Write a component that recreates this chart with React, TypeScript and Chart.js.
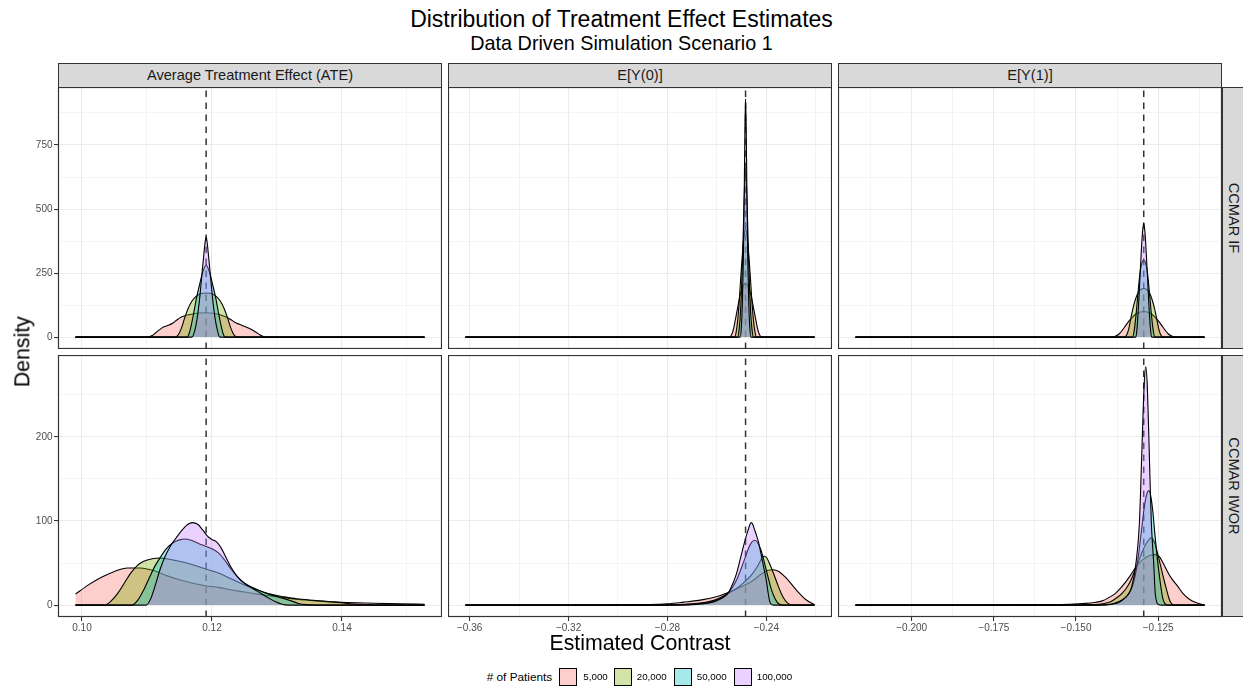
import React, { useEffect, useRef } from "react";
import { Chart, registerables } from "chart.js";

Chart.register(...registerables);

type Pt = [number, number];

// ---------- labels ----------
const SERIES = ["5,000", "20,000", "50,000", "100,000"];
const FILLS = [
  "rgba(248,118,109,0.35)",
  "rgba(124,174,0,0.35)",
  "rgba(0,191,196,0.35)",
  "rgba(199,124,255,0.35)",
];
const COL_TITLES = ["Average Treatment Effect (ATE)", "E[Y(0)]", "E[Y(1)]"];
const ROW_TITLES = ["CCMAR IF", "CCMAR IWOR"];
const TRUTH = [0.1191, -0.2484, -0.1294];

// ---------- ticks ----------
const X_MAJOR = [
  [0.1, 0.12, 0.14],
  [-0.36, -0.32, -0.28, -0.24],
  [-0.2, -0.175, -0.15, -0.125],
];
const X_LABELS = [
  ["0.10", "0.12", "0.14"],
  ["\u22120.36", "\u22120.32", "\u22120.28", "\u22120.24"],
  ["\u22120.200", "\u22120.175", "\u22120.150", "\u22120.125"],
];
const X_MINOR = [
  [0.11, 0.13, 0.15],
  [-0.34, -0.3, -0.26, -0.22],
  [-0.2125, -0.1875, -0.1625, -0.1375, -0.1125],
];
const Y_MAJOR = [
  [0, 250, 500, 750],
  [0, 100, 200],
];
const Y_LABELS = [
  ["0", "250", "500", "750"],
  ["0", "100", "200"],
];
const Y_MINOR = [
  [125, 375, 625, 875],
  [50, 150, 250],
];

// ---------- densities: CCMAR IF ----------
const ATE_IF_5000: Pt[] = [[0.099,0],[0.1102,0],[0.1108,6],[0.1114,18],[0.112,30],[0.1126,40],[0.1133,46],[0.114,55],[0.1146,67],[0.1153,78],[0.1162,86],[0.1172,91],[0.1182,94],[0.1191,95],[0.1201,93],[0.1211,88],[0.122,80],[0.1228,70],[0.1235,58],[0.1242,50],[0.125,42],[0.1257,35],[0.1263,27],[0.1269,17],[0.1274,8],[0.1279,2],[0.1283,0],[0.1527,0]];
const ATE_IF_20000: Pt[] = [[0.099,0],[0.1143,0],[0.1148,8],[0.1153,35],[0.1158,75],[0.1163,110],[0.1169,140],[0.1176,160],[0.1183,170],[0.1191,172],[0.1199,170],[0.1206,160],[0.1213,140],[0.1219,110],[0.1224,75],[0.1229,35],[0.1234,8],[0.1239,0],[0.1527,0]];
const ATE_IF_50000: Pt[] = [[0.099,0],[0.1162,0],[0.1165,15],[0.1168,45],[0.1172,95],[0.1176,150],[0.1181,205],[0.1186,255],[0.1191,281],[0.1196,255],[0.1201,205],[0.1206,150],[0.121,95],[0.1214,45],[0.1217,15],[0.122,0],[0.1527,0]];
const ATE_IF_100000: Pt[] = [[0.099,0],[0.1169,0],[0.1173,20],[0.1177,70],[0.1181,150],[0.1184,230],[0.1187,310],[0.1189,360],[0.1191,392],[0.1193,360],[0.1195,310],[0.1198,230],[0.1201,150],[0.1205,70],[0.1209,20],[0.1212,0],[0.1527,0]];

const EY0_IF_5000: Pt[] = [[-0.3617,0],[-0.2549,0],[-0.2539,12],[-0.2532,35],[-0.2524,74],[-0.2516,115],[-0.2508,155],[-0.25,185],[-0.2492,203],[-0.2484,210],[-0.2476,203],[-0.2468,185],[-0.246,155],[-0.2452,115],[-0.2444,74],[-0.2436,35],[-0.2429,12],[-0.2419,0],[-0.2205,0]];
const EY0_IF_20000: Pt[] = [[-0.3617,0],[-0.2528,0],[-0.2522,20],[-0.2515,74],[-0.2509,150],[-0.2503,240],[-0.2497,320],[-0.2491,390],[-0.2484,420],[-0.2477,390],[-0.2471,320],[-0.2465,240],[-0.2459,150],[-0.2453,74],[-0.2446,20],[-0.244,0],[-0.2205,0]];
const EY0_IF_50000: Pt[] = [[-0.3617,0],[-0.2516,0],[-0.251,30],[-0.2505,90],[-0.25,200],[-0.2495,350],[-0.249,530],[-0.2484,660],[-0.2478,530],[-0.2473,350],[-0.2468,200],[-0.2463,90],[-0.2458,30],[-0.2452,0],[-0.2205,0]];
const EY0_IF_100000: Pt[] = [[-0.3617,0],[-0.2506,0],[-0.2501,40],[-0.2497,130],[-0.2493,300],[-0.2489,600],[-0.24865,820],[-0.2484,930],[-0.24815,820],[-0.2479,600],[-0.2475,300],[-0.2471,130],[-0.2467,40],[-0.2462,0],[-0.2205,0]];

const EY1_IF_5000: Pt[] = [[-0.2171,0],[-0.139,0],[-0.1379,4],[-0.1369,12],[-0.1359,27],[-0.1349,45],[-0.1339,62],[-0.1329,77],[-0.1319,89],[-0.1309,96],[-0.1294,100],[-0.1279,96],[-0.1269,89],[-0.1259,77],[-0.1249,62],[-0.1239,45],[-0.1229,27],[-0.1219,12],[-0.1209,4],[-0.1198,0],[-0.1109,0]];
const EY1_IF_20000: Pt[] = [[-0.2171,0],[-0.1353,0],[-0.1346,8],[-0.134,30],[-0.1334,68],[-0.1328,105],[-0.1321,140],[-0.1314,165],[-0.1306,183],[-0.1294,190],[-0.1282,183],[-0.1274,165],[-0.1267,140],[-0.126,105],[-0.1254,68],[-0.1248,30],[-0.1242,8],[-0.1235,0],[-0.1109,0]];
const EY1_IF_50000: Pt[] = [[-0.2171,0],[-0.1328,0],[-0.1323,25],[-0.1318,80],[-0.1313,150],[-0.1308,220],[-0.1303,270],[-0.1298,295],[-0.1294,300],[-0.129,295],[-0.1285,270],[-0.128,220],[-0.1275,150],[-0.127,80],[-0.1265,25],[-0.126,0],[-0.1109,0]];
const EY1_IF_100000: Pt[] = [[-0.2171,0],[-0.1318,0],[-0.1314,40],[-0.131,120],[-0.1306,220],[-0.1302,320],[-0.1298,405],[-0.1294,445],[-0.129,405],[-0.1286,320],[-0.1282,220],[-0.1278,120],[-0.1274,40],[-0.127,0],[-0.1109,0]];

// ---------- densities: CCMAR IWOR ----------
const ATE_IWOR_5000: Pt[] = [[0.099,13],[0.101,24],[0.103,33],[0.105,40],[0.107,44],[0.109,44],[0.111,41],[0.113,35],[0.115,30],[0.117,26],[0.119,23],[0.121,21],[0.123,18],[0.125,15.5],[0.127,13],[0.129,11],[0.131,9],[0.133,7],[0.136,5],[0.14,3.2],[0.145,2.2],[0.149,1.5],[0.1527,1]];
const ATE_IWOR_20000: Pt[] = [[0.099,0],[0.1035,0],[0.1045,5],[0.1055,14],[0.1065,26],[0.1075,38],[0.1085,47],[0.1095,52],[0.1108,55],[0.112,56],[0.113,55],[0.115,52],[0.117,48],[0.119,43],[0.121,38],[0.123,31],[0.125,24],[0.127,18],[0.129,13],[0.131,10],[0.133,7.5],[0.136,5.5],[0.139,3.5],[0.1405,2.2],[0.142,1],[0.144,0.3],[0.146,0],[0.1527,0]];
const ATE_IWOR_50000: Pt[] = [[0.099,0],[0.1076,0],[0.1086,6],[0.1095,18],[0.1104,33],[0.1112,46],[0.112,56],[0.113,67],[0.114,74],[0.115,77.5],[0.1158,78.5],[0.1168,77],[0.118,73],[0.119,70],[0.12,67],[0.121,62],[0.122,53],[0.123,42],[0.124,33],[0.125,26],[0.1265,20],[0.128,15],[0.1295,11],[0.131,8],[0.1322,5],[0.1333,2],[0.1345,0.5],[0.136,0],[0.1527,0]];
const ATE_IWOR_100000: Pt[] = [[0.099,0],[0.1099,0],[0.1106,8],[0.1113,24],[0.112,42],[0.1128,58],[0.1136,70],[0.1145,80],[0.1155,90],[0.1163,96],[0.117,98],[0.1178,96],[0.1186,89],[0.1193,82],[0.12,78],[0.1207,75],[0.1214,68],[0.1222,56],[0.123,44],[0.124,33],[0.125,26],[0.1262,20],[0.1275,14],[0.1288,8],[0.1298,4],[0.1308,1],[0.1318,0],[0.1527,0]];

const EY0_IWOR_5000: Pt[] = [[-0.3617,0],[-0.31,0],[-0.3,0.2],[-0.29,0.6],[-0.28,1.5],[-0.2735,3.5],[-0.2656,6.5],[-0.2602,10],[-0.2562,14],[-0.2508,21],[-0.2455,29],[-0.242,37],[-0.2395,41],[-0.2373,42],[-0.235,40],[-0.2319,32],[-0.2279,18],[-0.2238,6],[-0.2205,0.5]];
const EY0_IWOR_20000: Pt[] = [[-0.3617,0],[-0.285,0],[-0.278,0.5],[-0.272,1.2],[-0.266,2.8],[-0.262,5],[-0.2585,9],[-0.2555,14],[-0.2525,19],[-0.249,27],[-0.246,36],[-0.2438,45],[-0.2425,52],[-0.2416,57],[-0.2408,58],[-0.2398,56],[-0.2385,48],[-0.237,37],[-0.2355,25],[-0.234,14],[-0.2325,6],[-0.2312,2],[-0.23,0.4],[-0.229,0],[-0.2205,0]];
const EY0_IWOR_50000: Pt[] = [[-0.3617,0],[-0.28,0],[-0.272,0.5],[-0.266,1.8],[-0.262,4],[-0.2585,8],[-0.2555,14],[-0.2535,22],[-0.252,30],[-0.2501,44],[-0.2485,57],[-0.247,69],[-0.2458,75],[-0.2447,77],[-0.2437,75],[-0.2425,68],[-0.2416,60],[-0.2405,47],[-0.2392,32],[-0.238,19],[-0.2367,9],[-0.2355,3],[-0.2346,1],[-0.2335,0],[-0.2205,0]];
const EY0_IWOR_100000: Pt[] = [[-0.3617,0],[-0.278,0],[-0.27,0.4],[-0.265,1.6],[-0.261,4],[-0.258,8],[-0.2555,14],[-0.2535,26],[-0.252,38],[-0.2501,60],[-0.2487,76],[-0.2474,89],[-0.2466,96],[-0.2461,98],[-0.2455,96],[-0.2448,90],[-0.2441,84],[-0.2431,74],[-0.2421,60],[-0.241,44],[-0.24,29],[-0.2393,15],[-0.2387,5],[-0.238,1],[-0.2372,0],[-0.2205,0]];

const EY1_IWOR_5000: Pt[] = [[-0.2171,0],[-0.19,0],[-0.17,0.2],[-0.16,0.5],[-0.152,1],[-0.147,2],[-0.1445,3],[-0.142,5],[-0.14,9],[-0.138,14],[-0.1365,20],[-0.135,27],[-0.1335,35],[-0.132,44],[-0.1305,51],[-0.129,56],[-0.1275,59],[-0.126,60],[-0.1247,58],[-0.1235,50],[-0.1222,40],[-0.121,32],[-0.119,22],[-0.1175,14],[-0.1155,7],[-0.1135,3],[-0.1118,1],[-0.1109,0.5]];
const EY1_IWOR_20000: Pt[] = [[-0.2171,0],[-0.15,0],[-0.145,0.5],[-0.142,1.5],[-0.1395,4],[-0.1375,9],[-0.136,14],[-0.1347,20],[-0.1335,28],[-0.1322,40],[-0.131,52],[-0.1298,64],[-0.1285,74],[-0.1271,80],[-0.1261,74],[-0.1251,60],[-0.1241,44],[-0.1233,31],[-0.1225,19],[-0.1218,9],[-0.1212,3],[-0.1205,0.5],[-0.1195,0],[-0.1109,0]];
const EY1_IWOR_50000: Pt[] = [[-0.2171,0],[-0.145,0],[-0.141,0.5],[-0.1385,2],[-0.136,6],[-0.1342,12],[-0.1327,24],[-0.1314,48],[-0.1302,85],[-0.1291,120],[-0.1283,134],[-0.1278,136],[-0.1272,128],[-0.1266,110],[-0.126,84],[-0.1254,60],[-0.1248,40],[-0.1242,22],[-0.1236,8],[-0.123,2],[-0.1224,0.3],[-0.1215,0],[-0.1109,0]];
const EY1_IWOR_100000: Pt[] = [[-0.2171,0],[-0.145,0],[-0.14,0.5],[-0.137,3],[-0.135,9],[-0.1332,20],[-0.1317,52],[-0.1307,99],[-0.13,179],[-0.1293,259],[-0.1288,283],[-0.1283,259],[-0.1277,179],[-0.1271,99],[-0.1264,52],[-0.1259,14],[-0.1254,3],[-0.1248,0.5],[-0.124,0],[-0.1109,0]];

const PANELS: Pt[][][][] = [
  [
    [ATE_IF_5000, ATE_IF_20000, ATE_IF_50000, ATE_IF_100000],
    [EY0_IF_5000, EY0_IF_20000, EY0_IF_50000, EY0_IF_100000],
    [EY1_IF_5000, EY1_IF_20000, EY1_IF_50000, EY1_IF_100000],
  ],
  [
    [ATE_IWOR_5000, ATE_IWOR_20000, ATE_IWOR_50000, ATE_IWOR_100000],
    [EY0_IWOR_5000, EY0_IWOR_20000, EY0_IWOR_50000, EY0_IWOR_100000],
    [EY1_IWOR_5000, EY1_IWOR_20000, EY1_IWOR_50000, EY1_IWOR_100000],
  ],
];

// ---------- layout ----------
const FONT = '"Liberation Sans", Arial, Helvetica, sans-serif';
const COL_LEFT = [58, 448, 838];
const ROW_TOP = [87, 355];
const PW = 384;
const PH = 262;
const LEFT_PAD = 45;
const BOTTOM_PAD = 28;

function xLimits(c: number): [number, number] {
  let mn = Infinity, mx = -Infinity;
  for (let r = 0; r < 2; r++)
    for (const s of PANELS[r][c])
      for (const [x] of s) { mn = Math.min(mn, x); mx = Math.max(mx, x); }
  const d = mx - mn;
  return [mn - 0.05 * d, mx + 0.05 * d];
}
function yLimits(r: number): [number, number] {
  let mx = 0;
  for (let c = 0; c < 3; c++)
    for (const s of PANELS[r][c])
      for (const [, y] of s) mx = Math.max(mx, y);
  return [-0.05 * mx, 1.05 * mx];
}

const near = (a: number, b: number) => Math.abs(a - b) < 1e-9;
const isMajor = (list: number[], v: number) => list.some((m) => near(m, v));
const labelOf = (list: number[], labels: string[], v: number) => {
  const i = list.findIndex((m) => near(m, v));
  return i >= 0 ? labels[i] : "";
};

function zeroPad(s: any) {
  s.paddingTop = 0;
  s.paddingBottom = 0;
  s.paddingLeft = 0;
  s.paddingRight = 0;
}

function buildConfig(r: number, c: number): any {
  const showY = c === 0;
  const showX = r === 1;
  const [xmin, xmax] = xLimits(c);
  const [ymin, ymax] = yLimits(r);
  const xTicks = [...X_MINOR[c], ...X_MAJOR[c]].sort((a, b) => a - b);
  const yTicks = [...Y_MINOR[r], ...Y_MAJOR[r]].sort((a, b) => a - b);
  const truth = TRUTH[c];

  const vline = {
    id: "truthLine",
    beforeDatasetsDraw(chart: any) {
      const { ctx, chartArea, scales } = chart;
      const px = scales.x.getPixelForValue(truth);
      ctx.save();
      ctx.beginPath();
      ctx.rect(chartArea.left, chartArea.top, chartArea.right - chartArea.left, chartArea.bottom - chartArea.top);
      ctx.clip();
      ctx.strokeStyle = "#333333";
      ctx.lineWidth = 1.5;
      ctx.setLineDash([6.5, 5.5]);
      ctx.beginPath();
      ctx.moveTo(px, chartArea.bottom);
      ctx.lineTo(px, chartArea.top);
      ctx.stroke();
      ctx.restore();
    },
  };
  const border = {
    id: "panelBorder",
    afterDraw(chart: any) {
      const { ctx, chartArea } = chart;
      ctx.save();
      ctx.strokeStyle = "#333333";
      ctx.lineWidth = 1.2;
      ctx.strokeRect(chartArea.left + 0.5, chartArea.top + 0.5, chartArea.right - chartArea.left - 1, chartArea.bottom - chartArea.top - 1);
      ctx.restore();
    },
  };

  return {
    type: "line",
    data: {
      datasets: PANELS[r][c].map((pts, i) => ({
        label: SERIES[i],
        data: pts.map(([x, y]) => ({ x, y })),
        borderColor: "#000000",
        borderWidth: 1.1,
        backgroundColor: FILLS[i],
        fill: "origin",
        pointRadius: 0,
        pointHoverRadius: 0,
        cubicInterpolationMode: "monotone",
        order: 4 - i,
      })),
    },
    options: {
      animation: false,
      responsive: false,
      maintainAspectRatio: false,
      events: [],
      layout: { padding: 0, autoPadding: false },
      plugins: { legend: { display: false }, tooltip: { enabled: false } },
      scales: {
        x: {
          type: "linear",
          min: xmin,
          max: xmax,
          afterBuildTicks: (s: any) => {
            s.ticks = xTicks.map((v) => ({ value: v }));
          },
          afterFit: (s: any) => {
            s.height = showX ? BOTTOM_PAD : 0;
            zeroPad(s);
          },
          ticks: {
            display: showX,
            autoSkip: false,
            maxRotation: 0,
            minRotation: 0,
            padding: 1,
            color: "#4d4d4d",
            font: { family: FONT, size: 10 },
            callback: (v: any) => labelOf(X_MAJOR[c], X_LABELS[c], Number(v)),
          },
          grid: {
            color: "#ebebeb",
            lineWidth: (ctx: any) => (ctx.tick && isMajor(X_MAJOR[c], ctx.tick.value) ? 1.07 : 0.53),
            drawTicks: showX,
            tickLength: 4,
            tickWidth: 1.07,
            tickColor: (ctx: any) => (ctx.tick && isMajor(X_MAJOR[c], ctx.tick.value) ? "#333333" : "rgba(0,0,0,0)"),
          },
          border: { display: false },
        },
        y: {
          type: "linear",
          min: ymin,
          max: ymax,
          afterBuildTicks: (s: any) => {
            s.ticks = yTicks.map((v) => ({ value: v }));
          },
          afterFit: (s: any) => {
            s.width = showY ? LEFT_PAD : 0;
            zeroPad(s);
          },
          ticks: {
            display: showY,
            autoSkip: false,
            padding: 1.5,
            color: "#4d4d4d",
            font: { family: FONT, size: 10 },
            callback: (v: any) => labelOf(Y_MAJOR[r], Y_LABELS[r], Number(v)),
          },
          grid: {
            color: "#ebebeb",
            lineWidth: (ctx: any) => (ctx.tick && isMajor(Y_MAJOR[r], ctx.tick.value) ? 1.07 : 0.53),
            drawTicks: showY,
            tickLength: 4,
            tickWidth: 1.07,
            tickColor: (ctx: any) => (ctx.tick && isMajor(Y_MAJOR[r], ctx.tick.value) ? "#333333" : "rgba(0,0,0,0)"),
          },
          border: { display: false },
        },
      },
    },
    plugins: [vline, border],
  };
}

const LEGEND_KEY_LEFT = [559.3, 614.3, 674.3, 734.3];
const LEGEND_LABEL_LEFT = [583.3, 636.7, 696.7, 756.7];

export default function App() {
  const refs = useRef<(HTMLCanvasElement | null)[]>([]);

  useEffect(() => {
    const charts: Chart[] = [];
    for (let r = 0; r < 2; r++)
      for (let c = 0; c < 3; c++) {
        const cv = refs.current[r * 3 + c];
        if (cv) charts.push(new Chart(cv, buildConfig(r, c)));
      }
    return () => charts.forEach((ch) => ch.destroy());
  }, []);

  const canvases: React.ReactNode[] = [];
  for (let r = 0; r < 2; r++)
    for (let c = 0; c < 3; c++) {
      const lp = c === 0 ? LEFT_PAD : 0;
      const bp = r === 1 ? BOTTOM_PAD : 0;
      const w = PW + lp;
      const h = PH + bp;
      canvases.push(
        <canvas
          key={`cv${r}${c}`}
          ref={(el) => {
            refs.current[r * 3 + c] = el;
          }}
          width={w}
          height={h}
          style={{ position: "absolute", left: COL_LEFT[c] - lp, top: ROW_TOP[r], width: w, height: h }}
        />
      );
    }

  return (
    <div
      style={{
        position: "absolute",
        left: 0,
        top: 0,
        width: 1243,
        height: 691,
        overflow: "hidden",
        background: "#ffffff",
        fontFamily: FONT,
        color: "#000",
      }}
    >
      <div style={{ position: "absolute", left: 0, width: 1243, top: 7.5, fontSize: 23, lineHeight: "23px", textAlign: "center", whiteSpace: "nowrap" }}>
        Distribution of Treatment Effect Estimates
      </div>
      <div style={{ position: "absolute", left: 0, width: 1243, top: 33.5, fontSize: 19.8, lineHeight: "19.8px", textAlign: "center", whiteSpace: "nowrap" }}>
        Data Driven Simulation Scenario 1
      </div>

      {COL_TITLES.map((t, c) => (
        <div
          key={`cs${c}`}
          style={{
            position: "absolute",
            left: COL_LEFT[c],
            top: 63,
            width: PW,
            height: 24.5,
            boxSizing: "border-box",
            background: "#d9d9d9",
            border: "1.2px solid #333333",
            display: "flex",
            alignItems: "center",
            justifyContent: "center",
            fontSize: 14.6,
            color: "#1a1a1a",
            whiteSpace: "nowrap",
          }}
        >
          {t}
        </div>
      ))}

      {ROW_TITLES.map((t, r) => (
        <React.Fragment key={`rs${r}`}>
          <div
            style={{
              position: "absolute",
              left: 1221.5,
              top: ROW_TOP[r],
              width: 26,
              height: PH,
              boxSizing: "border-box",
              background: "#d9d9d9",
              border: "1.2px solid #333333",
            }}
          />
          <div
            style={{
              position: "absolute",
              left: 1234 - PH / 2,
              top: ROW_TOP[r] + PH / 2 - 12,
              width: PH,
              height: 24,
              lineHeight: "24px",
              textAlign: "center",
              fontSize: 14.6,
              color: "#1a1a1a",
              transform: "rotate(90deg)",
              whiteSpace: "nowrap",
            }}
          >
            {t}
          </div>
        </React.Fragment>
      ))}

      {canvases}

      <div
        style={{
          position: "absolute",
          left: 22.6 - 100,
          top: 352 - 10.65,
          width: 200,
          height: 21.3,
          lineHeight: "21.3px",
          fontSize: 21.3,
          textAlign: "center",
          transform: "rotate(-90deg)",
          whiteSpace: "nowrap",
        }}
      >
        Density
      </div>
      <div
        style={{
          position: "absolute",
          left: 440,
          width: 400,
          top: 632.7,
          fontSize: 21.3,
          lineHeight: "21.3px",
          textAlign: "center",
          whiteSpace: "nowrap",
        }}
      >
        Estimated Contrast
      </div>

      <div style={{ position: "absolute", left: 486.7, top: 677 - 7, fontSize: 11.8, lineHeight: "14px", whiteSpace: "nowrap", color: "#000" }}>
        # of Patients
      </div>
      {SERIES.map((s, i) => (
        <React.Fragment key={`lg${i}`}>
          <div
            style={{
              position: "absolute",
              left: LEGEND_KEY_LEFT[i],
              top: 677 - 8.7,
              width: 17.4,
              height: 17.4,
              boxSizing: "border-box",
              border: "1.2px solid #000",
              background: FILLS[i],
            }}
          />
          <div
            style={{
              position: "absolute",
              left: LEGEND_LABEL_LEFT[i],
              top: 677 - 6,
              fontSize: 9.8,
              lineHeight: "12px",
              whiteSpace: "nowrap",
              color: "#000",
            }}
          >
            {s}
          </div>
        </React.Fragment>
      ))}
    </div>
  );
}
